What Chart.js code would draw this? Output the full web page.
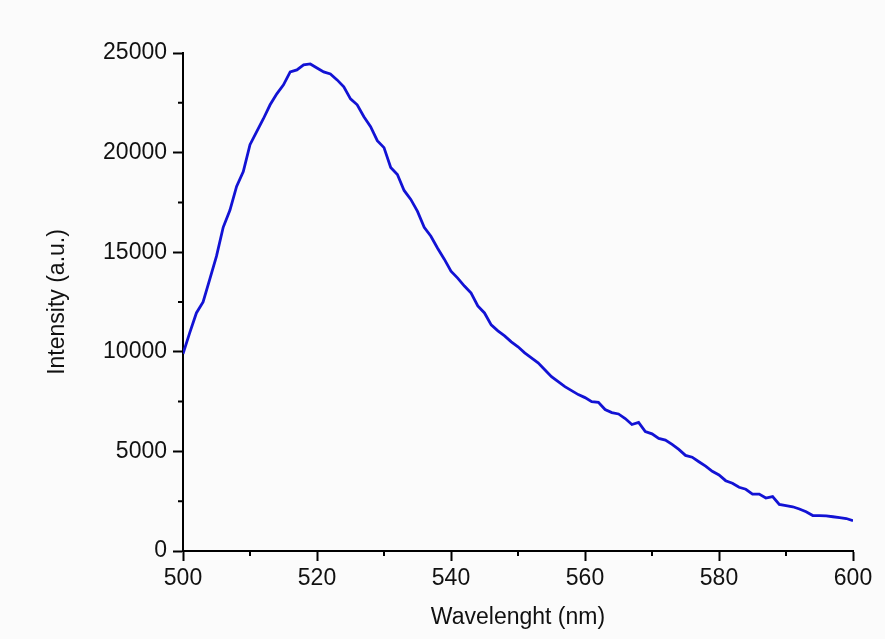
<!DOCTYPE html>
<html>
<head>
<meta charset="utf-8">
<script src="https://cdn.jsdelivr.net/npm/chart.js@4/dist/chart.umd.min.js"></script>
<style>
  html, body { margin: 0; padding: 0; background: #fbfbfb; }
  #wrap { width: 885px; height: 639px; }
</style>
</head>
<body>
<div id="wrap"><canvas id="spectrum"></canvas></div>
<script>
  // emission spectrum, 1 nm steps
  const wavelength = [
    500, 501, 502, 503, 504, 505, 506, 507, 508, 509,
    510, 511, 512, 513, 514, 515, 516, 517, 518, 519,
    520, 521, 522, 523, 524, 525, 526, 527, 528, 529,
    530, 531, 532, 533, 534, 535, 536, 537, 538, 539,
    540, 541, 542, 543, 544, 545, 546, 547, 548, 549,
    550, 551, 552, 553, 554, 555, 556, 557, 558, 559,
    560, 561, 562, 563, 564, 565, 566, 567, 568, 569,
    570, 571, 572, 573, 574, 575, 576, 577, 578, 579,
    580, 581, 582, 583, 584, 585, 586, 587, 588, 589,
    590, 591, 592, 593, 594, 595, 596, 597, 598, 599,
    600
  ];
  const intensity = [
    9900, 10950, 11950, 12500, 13650, 14800, 16250, 17100, 18300, 19050,
    20400, 21050, 21700, 22400, 22950, 23400, 24050, 24150, 24400, 24450,
    24250, 24050, 23950, 23650, 23300, 22700, 22400, 21800, 21300, 20600,
    20250, 19250, 18900, 18100, 17650, 17050, 16250, 15800, 15200, 14650,
    14050, 13700, 13300, 12950, 12300, 11950, 11350, 11050, 10800, 10500,
    10250, 9950, 9700, 9450, 9100, 8750, 8500, 8250, 8050, 7850,
    7700, 7500, 7460, 7100, 6950, 6880, 6650, 6350, 6460, 6000,
    5880, 5650, 5570, 5350, 5100, 4800, 4710, 4480, 4260, 4000,
    3820, 3530, 3400, 3200, 3100, 2860, 2860, 2660, 2730, 2340,
    2280, 2220, 2110, 1970, 1780, 1775, 1765, 1720, 1680, 1630,
    1520
  ];
  const xMajorTicks = [500, 520, 540, 560, 580, 600];
  const xMinorTicks = [510, 530, 550, 570, 590];
  const yMajorTicks = [0, 5000, 10000, 15000, 20000, 25000];
  const yMinorTicks = [2500, 7500, 12500, 17500, 22500];

  const font = { family: "'Liberation Sans', Arial, sans-serif", size: 23 };
  Chart.defaults.color = "#111";

  // short outward ticks halfway between the labelled ones
  const minorTicks = {
    id: "minorTicks",
    afterDraw(chart) {
      const { ctx, scales: { x, y }, chartArea } = chart;
      ctx.save();
      ctx.strokeStyle = "#000";
      ctx.lineWidth = 2;
      ctx.beginPath();
      xMinorTicks.forEach((v) => {
        const px = x.getPixelForValue(v);
        ctx.moveTo(px, chartArea.bottom);
        ctx.lineTo(px, chartArea.bottom + 5);
      });
      yMinorTicks.forEach((v) => {
        const py = y.getPixelForValue(v);
        ctx.moveTo(chartArea.left, py);
        ctx.lineTo(chartArea.left - 5, py);
      });
      ctx.stroke();
      ctx.restore();
    },
  };

  new Chart(document.getElementById("spectrum"), {
    type: "line",
    data: {
      datasets: [
        {
          data: wavelength.map((w, i) => ({ x: w, y: intensity[i] })),
          borderColor: "#1212d4",
          borderWidth: 2.8,
          pointRadius: 0,
          tension: 0,
          fill: false,
        },
      ],
    },
    options: {
      responsive: true,
      maintainAspectRatio: false,
      animation: false,
      events: [],
      layout: { padding: { top: 53, right: 32, bottom: 0, left: 0 } },
      plugins: { legend: { display: false }, tooltip: { enabled: false } },
      scales: {
        x: {
          type: "linear",
          min: 500,
          max: 600,
          afterFit: (scale) => { scale.height = 88; },
          afterBuildTicks: (scale) => { scale.ticks = xMajorTicks.map((v) => ({ value: v })); },
          border: { color: "#000", width: 2 },
          grid: { drawOnChartArea: false, tickLength: 10, tickColor: "#000", tickWidth: 2 },
          ticks: { font, padding: 4, color: "#111", maxRotation: 0, callback: (v) => String(v) },
          title: { display: true, text: "Wavelenght (nm)", font, color: "#111", padding: { top: 0, bottom: 8 } },
        },
        y: {
          min: 0,
          max: 25000,
          afterFit: (scale) => { scale.width = 183; },
          afterBuildTicks: (scale) => { scale.ticks = yMajorTicks.map((v) => ({ value: v })); },
          border: { color: "#000", width: 2 },
          grid: { drawOnChartArea: false, tickLength: 10, tickColor: "#000", tickWidth: 2 },
          ticks: { font, padding: 6, color: "#111", callback: (v) => String(v) },
          title: { display: true, text: "Intensity (a.u.)", font, color: "#111", padding: { top: 44, bottom: 0 } },
        },
      },
    },
    plugins: [minorTicks],
  });
</script>
</body>
</html>
